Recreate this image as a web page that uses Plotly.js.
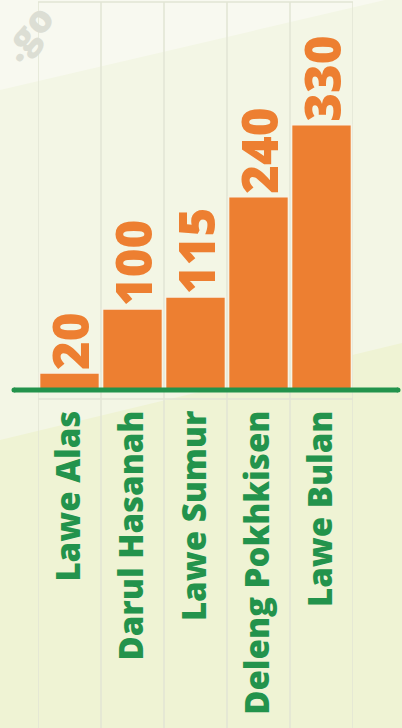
<!DOCTYPE html>
<html>
<head>
<meta charset="utf-8">
<script src="https://cdn.plot.ly/plotly-3.0.1.min.js"></script>
<style>html,body{margin:0;padding:0;background:#f3f6e5;}#chart{width:402px;height:728px;}</style>
</head>
<body>
<div id="chart"></div>
<script>
const categories = ["Lawe Alas", "Darul Hasanah", "Lawe Sumur", "Deleng Pokhkisen", "Lawe Bulan"];
const values = [20, 100, 115, 240, 330];
const valueLabels = ["20", "100", "115", "240", "330"];

const W = 402, H = 728;
const M = {l: 38, r: 49, t: 3, b: 339};
const PW = W - M.l - M.r, PH = H - M.t - M.b;
const X = px => (px - M.l) / PW;
const Y = py => (H - M.b - py) / PH;

const ORANGE = '#ED7F31';
const GREEN = '#23934C';
const GRID = '#e2e5d5';

const shapes = [];
// background bands
shapes.push({type:'path', xref:'paper', yref:'paper', layer:'below', line:{width:0}, fillcolor:'#eff3d4',
  path:`M${X(0)},${Y(440)} L${X(402)},${Y(343)} L${X(402)},${Y(728)} L${X(0)},${Y(728)} Z`});
shapes.push({type:'path', xref:'paper', yref:'paper', layer:'below', line:{width:0}, fillcolor:'#f8f9f0',
  path:`M${X(0)},${Y(0)} L${X(402)},${Y(0)} L${X(402)},${Y(-4)} L${X(0)},${Y(90)} Z`});
// vertical grid lines at category boundaries
for (let i = 0; i <= categories.length; i++) {
  shapes.push({type:'line', xref:'x', yref:'paper', layer:'below', x0:i-0.5, x1:i-0.5, y0:Y(2), y1:Y(728), line:{color:GRID, width:1.5}});
}
shapes.push({type:'line', xref:'x', yref:'paper', layer:'below', x0:-0.5, x1:categories.length-0.5, y0:Y(2), y1:Y(2), line:{color:GRID, width:1.5}});
shapes.push({type:'line', xref:'x', yref:'paper', layer:'below', x0:-0.5, x1:categories.length-0.5, y0:Y(399), y1:Y(399), line:{color:GRID, width:1.5}});
// green baseline
shapes.push({type:'line', xref:'paper', yref:'paper', layer:'above', x0:X(14), x1:X(398), y0:Y(390), y1:Y(390), line:{color:GREEN, width:5}});
[14, 398].forEach(px => shapes.push({type:'circle', xref:'paper', yref:'paper', layer:'above', xsizemode:'pixel', ysizemode:'pixel',
  xanchor:X(px), yanchor:Y(390), x0:-2.5, x1:2.5, y0:-2.5, y1:2.5, fillcolor:GREEN, line:{width:0}}));

const trace = {
  type:'bar', x:categories, y:values, text:valueLabels,
  textposition:'outside', textangle:-90, cliponaxis:false, constraintext:'none',
  textfont:{family:'Open Sans', size:49, color:ORANGE, weight:800},
  marker:{color:ORANGE, line:{color:'#f6f4e6', width:1.5}},
  hoverinfo:'none'
};

const layout = {
  width:W, height:H, margin:M,
  paper_bgcolor:'#f3f6e5', plot_bgcolor:'rgba(0,0,0,0)',
  showlegend:false, bargap:0.05,
  xaxis:{type:'category', range:[-0.5, categories.length-0.5], showgrid:false, zeroline:false, showline:false,
    ticks:'', tickangle:-90, ticklabelstandoff:14,
    tickfont:{family:'Open Sans', size:33, color:GREEN, weight:800}},
  yaxis:{range:[0, 482], showgrid:false, zeroline:false, showline:false, showticklabels:false, ticks:''},
  shapes:shapes,
  annotations:[{xref:'paper', yref:'paper', x:X(26), y:Y(32), xanchor:'center', yanchor:'middle', text:'.go', showarrow:false, textangle:-50,
    font:{family:'Open Sans', size:38, color:'#dcded4', weight:800}}]
};

Plotly.newPlot('chart', [trace], layout, {displayModeBar:false, staticPlot:true});
</script>
</body>
</html>
